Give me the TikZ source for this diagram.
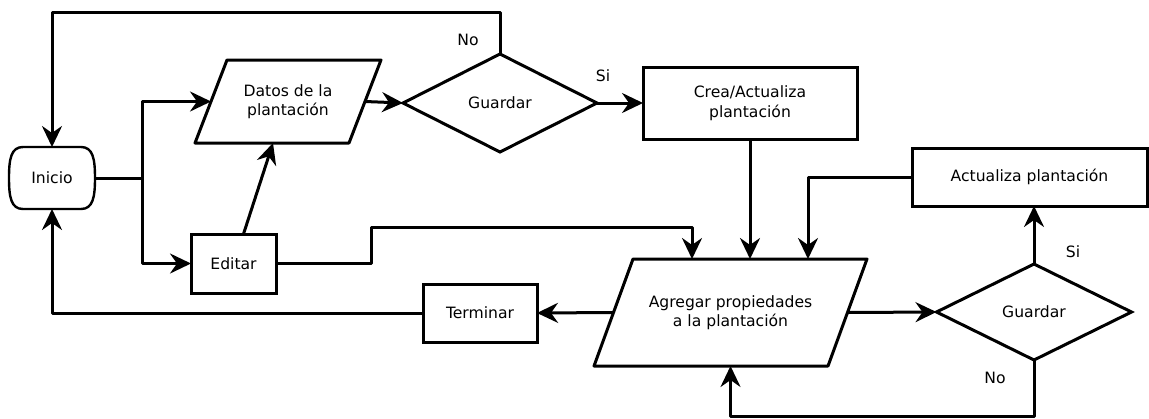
\documentclass[tikz,border=0pt]{standalone}
\usepackage{fontspec}
\setmainfont{DejaVu Sans}
\usetikzlibrary{arrows.meta,shapes.geometric}
\tikzset{
    >={Stealth[length=10.5pt,width=10pt,inset=3.5pt]},
    flow/.style={line width=1.5pt, line join=round},
    caja/.style={draw, line width=1.5pt, rectangle, inner sep=0pt, outer sep=0pt, align=center, font=\fontsize{7.8}{9.8}\selectfont},
    datos/.style={caja, draw=none},
    decision/.style={caja, diamond, aspect=2},
    etiqueta/.style={inner sep=0pt, font=\fontsize{7.8}{9.8}\selectfont},
}
\begin{document}
\begin{tikzpicture}[x=0.5pt, y=-0.5pt]
    \useasboundingbox (0,0) rectangle (1149,418);
    \node[caja, draw=none, minimum width=43pt, minimum height=31pt] (inicio) at (52,178) {Inicio}; %% Inicio
    \draw[flow, line width=1.2pt] ([xshift=7pt]inicio.north west) -- ([xshift=-7pt]inicio.north east) .. controls ([xshift=-1pt]inicio.north east) and ([yshift=-6pt]inicio.north east) .. (inicio.east) .. controls ([yshift=6pt]inicio.south east) and ([xshift=-1pt]inicio.south east) .. ([xshift=-7pt]inicio.south east) -- ([xshift=7pt]inicio.south west) .. controls ([xshift=1pt]inicio.south west) and ([yshift=6pt]inicio.south west) .. (inicio.west) .. controls ([yshift=-6pt]inicio.north west) and ([xshift=1pt]inicio.north west) .. cycle; %% borde de Inicio
    \node[datos, minimum width=77pt, minimum height=41.5pt] (datosplant) at (288,101.5) {Datos de la\\plantaci\'on}; %% Datos
    \draw[flow] ([xshift=8pt]datosplant.north west) -- ([xshift=8pt]datosplant.north east) -- ([xshift=-8pt]datosplant.south east) -- ([xshift=-8pt]datosplant.south west) -- cycle;
    \node[caja, minimum width=42.5pt, minimum height=29.5pt] (editar) at (233.5,263.5) {Editar}; %% Editar
    \node[decision, minimum width=97pt, minimum height=49pt] (guardar1) at (500,103) {Guardar}; %% Guardar 1
    \node[caja, minimum width=107pt, minimum height=36pt] (crea) at (750,103) {Crea/Actualiza\\plantaci\'on}; %% Crea
    \node[datos, minimum width=117pt, minimum height=53.5pt] (agregar) at (730.5,312.5) {Agregar propiedades\\a la plantaci\'on}; %% Agregar
    \draw[flow] ([xshift=9.75pt]agregar.north west) -- ([xshift=9.75pt]agregar.north east) -- ([xshift=-9.75pt]agregar.south east) -- ([xshift=-9.75pt]agregar.south west) -- cycle;
    \node[caja, minimum width=117.5pt, minimum height=29pt] (actualiza) at (1029.5,177) {Actualiza plantaci\'on}; %% Actualiza
    \node[decision, minimum width=97.5pt, minimum height=48pt] (guardar2) at (1034,312) {Guardar}; %% Guardar 2
    \node[caja, minimum width=57pt, minimum height=29pt] (terminar) at (480,313) {Terminar}; %% Terminar
    \coordinate (bifurca) at (142,178);
    \coordinate (quiebre) at (371,227);
    \coordinate (entrada) at (crea.south |- agregar.north);
    \draw[flow, ->] (inicio.east) -- (bifurca) |- (datosplant.west); %% Inicio a Datos
    \draw[flow, ->] (bifurca) |- (editar.west); %% a Editar
    \draw[flow, ->] ([xshift=5pt]editar.north) -- ([xshift=-7.5pt]datosplant.south); %% Editar a Datos
    \draw[flow, ->] (datosplant.east) -- (guardar1.west);
    \draw[flow, ->] (guardar1.north) -- ++(0,-42) -| (inicio.north); %% No
    \node[etiqueta] (no1) at (468,40) {No};
    \draw[flow, ->] (guardar1.east) -- (crea.west); %% Si
    \node[etiqueta] (si1) at (603,76) {Si};
    \draw[flow, ->] (crea.south) -- (entrada);
    \draw[flow, ->] (editar.east) -| (quiebre) -| ([xshift=-29pt]entrada); %% Editar a Agregar
    \draw[flow, ->] (actualiza.west) -| ([xshift=29pt]entrada);
    \draw[flow, ->] (agregar.west) -- (terminar.east);
    \draw[flow, ->] (terminar.west) -| (inicio.south); %% vuelta a Inicio
    \draw[flow, ->] (agregar.east) -- (guardar2.west);
    \draw[flow, ->] (guardar2.north) -- (guardar2.north |- actualiza.south); %% Si
    \node[etiqueta] (si2) at (1073,252) {Si};
    \draw[flow, ->] (guardar2.south) -- ++(0,56) -| (agregar.south); %% No
    \node[etiqueta] (no2) at (995,378) {No};
\end{tikzpicture}
\end{document}
